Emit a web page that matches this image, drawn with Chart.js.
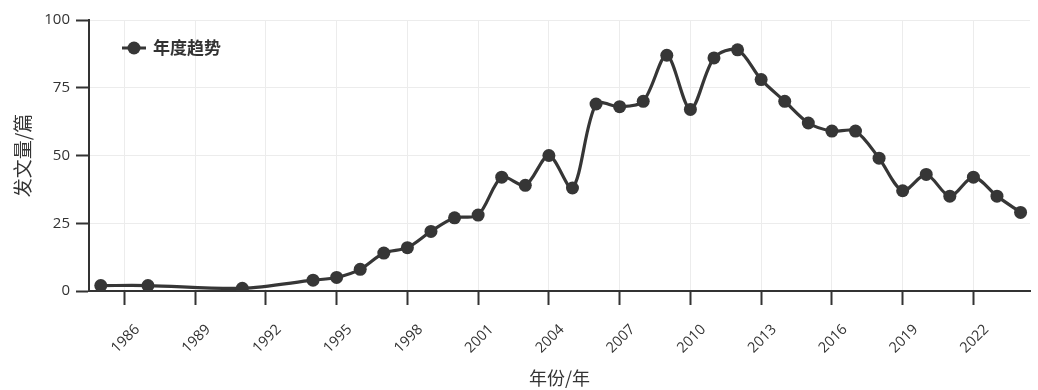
<!DOCTYPE html>
<html>
<head>
<meta charset="utf-8">
<script src="https://cdn.jsdelivr.net/npm/chart.js@4.4.1/dist/chart.umd.min.js"></script>
<style>
  html, body { margin: 0; padding: 0; background: #fff; }
  #wrap { width: 1038px; height: 390px; }
</style>
</head>
<body>
<div id="wrap"><canvas id="trendChart"></canvas></div>
<script>
// Publication counts per year
const years = [1985, 1987, 1991, 1994, 1995, 1996, 1997, 1998, 1999, 2000,
               2001, 2002, 2003, 2004, 2005, 2006, 2007, 2008, 2009, 2010,
               2011, 2012, 2013, 2014, 2015, 2016, 2017, 2018, 2019, 2020,
               2021, 2022, 2023, 2024];
const counts = [2, 2, 1, 4, 5, 8, 14, 16, 22, 27,
                28, 42, 39, 50, 38, 69, 68, 70, 87, 67,
                86, 89, 78, 70, 62, 59, 59, 49, 37, 43,
                35, 42, 35, 29];
const xTicks = [1986, 1989, 1992, 1995, 1998, 2001, 2004, 2007, 2010, 2013, 2016, 2019, 2022];
const yTicks = [0, 25, 50, 75, 100];

const ink = "#363636";
const cjk = "'Noto Sans CJK SC', sans-serif";

// Legend drawn inside the plot, top-left, as line + dot + bold label
const insideLegend = {
    id: "insideLegend",
    afterDraw(chart) {
        const ds = chart.data.datasets[0];
        const g = chart.ctx;
        const cx = chart.chartArea.left + 45;
        const cy = chart.chartArea.top + 28;
        g.save();
        g.strokeStyle = ds.borderColor;
        g.lineWidth = 3;
        g.beginPath(); g.moveTo(cx - 12, cy); g.lineTo(cx + 12, cy); g.stroke();
        g.fillStyle = ds.borderColor;
        g.beginPath(); g.arc(cx, cy, 6.5, 0, Math.PI * 2); g.fill();
        g.fillStyle = "#333";
        g.font = "bold 17px " + cjk;
        g.textBaseline = "middle";
        g.fillText(ds.label, cx + 19, cy);
        g.restore();
    },
};

const ctx = document.getElementById("trendChart").getContext("2d");
new Chart(ctx, {
    type: "line",
    data: {
        datasets: [{
            label: "年度趋势",
            data: years.map((y, i) => ({ x: y, y: counts[i] })),
            borderColor: ink,
            backgroundColor: ink,
            borderWidth: 3.2,
            pointRadius: 6.5,
            pointBackgroundColor: ink,
            pointBorderWidth: 0,
            tension: 0.3,
            fill: false,
        }],
    },
    plugins: [insideLegend],
    options: {
        responsive: true,
        maintainAspectRatio: false,
        animation: false,
        layout: { padding: { top: 20, right: 8, left: 0, bottom: 0 } },
        plugins: {
            tooltip: { enabled: false },
            legend: { display: false },
        },
        scales: {
            x: {
                type: "linear",
                min: 1984.5,
                max: 2024.4,
                afterBuildTicks: (axis) => { axis.ticks = xTicks.map(v => ({ value: v })); },
                afterFit: (axis) => { axis.height = 99; },
                grid: { color: "#ececec", lineWidth: 1, tickColor: "#333", tickLength: 14, tickWidth: 2 },
                border: { color: "#333", width: 2 },
                ticks: {
                    color: "#333",
                    maxRotation: 45,
                    minRotation: 45,
                    labelOffset: 13,
                    padding: 16,
                    font: { family: "'Open Sans', sans-serif", size: 14.5 },
                    callback: (v) => String(v),
                },
                title: {
                    display: true,
                    text: "年份/年",
                    color: "#333",
                    font: { family: cjk, size: 18 },
                    padding: { top: 4, bottom: 1 },
                },
            },
            y: {
                min: 0,
                max: 100,
                afterBuildTicks: (axis) => { axis.ticks = yTicks.map(v => ({ value: v })); },
                afterFit: (axis) => { axis.width = 89; },
                grid: { color: "#ececec", lineWidth: 1, tickColor: "#333", tickLength: 13, tickWidth: 2 },
                border: { color: "#333", width: 2 },
                ticks: {
                    color: "#333",
                    font: { family: "'Open Sans', sans-serif", size: 15 },
                    padding: 6,
                },
                title: {
                    display: true,
                    text: "发文量/篇",
                    color: "#333",
                    font: { family: cjk, size: 19 },
                    padding: { top: 11, bottom: 0 },
                },
            },
        },
    },
});
</script>
</body>
</html>
